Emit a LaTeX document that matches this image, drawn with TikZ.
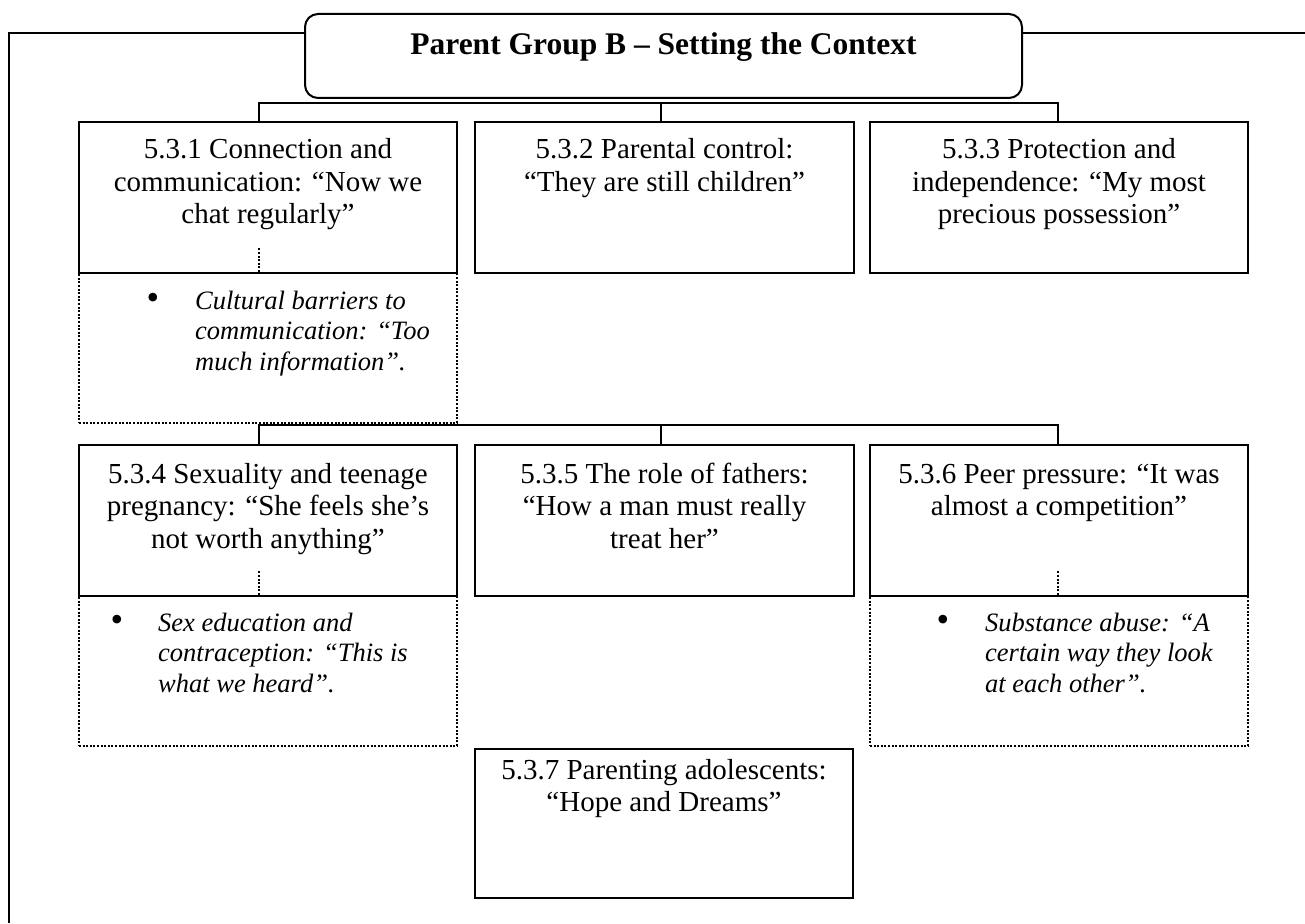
\documentclass[tikz,border=0pt]{standalone}
\usepackage{fontspec}
\setmainfont{Liberation Serif}
\usetikzlibrary{calc}
\begin{document}
\begin{tikzpicture}[x=1pt,y=-1pt,
  outerline/.style={line width=1.5pt},
  topic/.style={draw, line width=2pt, minimum width=378pt, minimum height=151pt, inner sep=0pt},
  subtopic/.style={draw, line width=2pt, dash pattern=on 2pt off 1.6pt, minimum width=378pt, minimum height=150pt, inner sep=0pt},
  boxtext/.style={inner sep=0pt, anchor=north, align=center, font=\fontsize{29}{32.5}\selectfont},
  notetext/.style={inner sep=0pt, anchor=north west, align=left, font=\fontsize{26.5}{30.5}\selectfont\itshape},
  bulletmark/.style={inner sep=0pt, anchor=base, font=\fontsize{36}{40}\selectfont},
  joinline/.style={line width=2pt},
  dotline/.style={line width=2.2pt, dash pattern=on 2pt off 1.6pt}]
\useasboundingbox (0,0) rectangle (1305,923);

% title
\node[draw, rounded corners=13pt, line width=2pt, minimum width=717pt, minimum height=84pt, inner sep=0pt] (title) at (663.5,56) {};
\node[anchor=base, inner sep=0pt, font=\fontsize{31.5}{36}\selectfont\bfseries] (titletext) at ($(title.north)+(0,42)$) {Parent Group B – Setting the Context};

% outer frame
\coordinate (fl) at (9,923);
\coordinate (ftl) at (9,33);
\coordinate (ftr) at (1305,33);
\draw[outerline] (fl) -- (ftl) -- (ftl -| title.west);
\draw[outerline] (ftl -| title.east) -- (ftr);

% sub-theme boxes (dotted)
\node[subtopic] (s1) at (268,348) {};
\node[subtopic] (s4) at (268,671) {};
\node[subtopic] (s6) at (1059,671) {};

% theme boxes
\node[topic] (b1) at (268,197.5) {};
\node[topic, minimum width=379pt] (b2) at (664.5,197.5) {};
\node[topic] (b3) at (1059,197.5) {};
\node[topic] (b4) at (268,520.5) {};
\node[topic, minimum width=379pt] (b5) at (664.5,520.5) {};
\node[topic] (b6) at (1059,520.5) {};
\node[topic, minimum height=149pt] (b7) at (664,823.5) {};

% theme texts
\node[boxtext] (t1) at ($(b1.north)+(0,14.75)$) {\strut 5.3.1 Connection and\\communication: “Now we\\chat regularly”};
\node[boxtext] (t2) at ($(b2.north)+(0,14.75)$) {\strut 5.3.2 Parental control:\\“They are still children”};
\node[boxtext] (t3) at ($(b3.north)+(0,14.75)$) {\strut 5.3.3 Protection and\\independence: “My most\\precious possession”};
\node[boxtext] (t4) at ($(b4.north)+(0,16.25)$) {\strut 5.3.4 Sexuality and teenage\\pregnancy: “She feels she’s\\not worth anything”};
\node[boxtext] (t5) at ($(b5.north)+(0,16.25)$) {\strut 5.3.5 The role of fathers:\\“How a man must really\\treat her”};
\node[boxtext] (t6) at ($(b6.north)+(0,16.25)$) {\strut 5.3.6 Peer pressure: “It was\\almost a competition”};
\node[boxtext] (t7) at ($(b7.north)+(0,8.25)$) {\strut 5.3.7 Parenting adolescents:\\“Hope and Dreams”};

% sub-theme texts
\node[bulletmark] (m1) at ($(s1.north west)+(75,37)$) {•};
\node[notetext] (n1) at ($(s1.north west)+(117,15.65)$) {\strut Cultural barriers to\\communication: “Too\\much information”.};
\node[bulletmark] (m4) at ($(s4.north west)+(39,36)$) {•};
\node[notetext] (n4) at ($(s4.north west)+(80,14.65)$) {\strut Sex education and\\contraception: “This is\\what we heard”.};
\node[bulletmark] (m6) at ($(s6.north west)+(74,36)$) {•};
\node[notetext] (n6) at ($(s6.north west)+(116,14.65)$) {\strut Substance abuse: “A\\certain way they look\\at each other”.};

% connectors, first row
\coordinate (j1) at (259,103);
\coordinate (j2) at (661,103);
\coordinate (j3) at (1058,103);
\draw[joinline] (j1 |- b1.north) -- (j1) -- (j3) -- (j3 |- b3.north);
\draw[joinline] (j2) -- (j2 |- b2.north);

% connectors, second row
\coordinate (k1) at (259,425);
\coordinate (k2) at (661,425);
\coordinate (k3) at (1058,425);
\draw[joinline] (k1 |- b4.north) -- (k1) -- (k3) -- (k3 |- b6.north);
\draw[joinline] (k2) -- (k2 |- b5.north);

% dotted links to sub-themes
\draw[dotline] (j1 |- s1.north) -- ++(0,-25);
\draw[dotline] (k1 |- s4.north) -- ++(0,-24);
\draw[dotline] (k3 |- s6.north) -- ++(0,-24);
\end{tikzpicture}
\end{document}
